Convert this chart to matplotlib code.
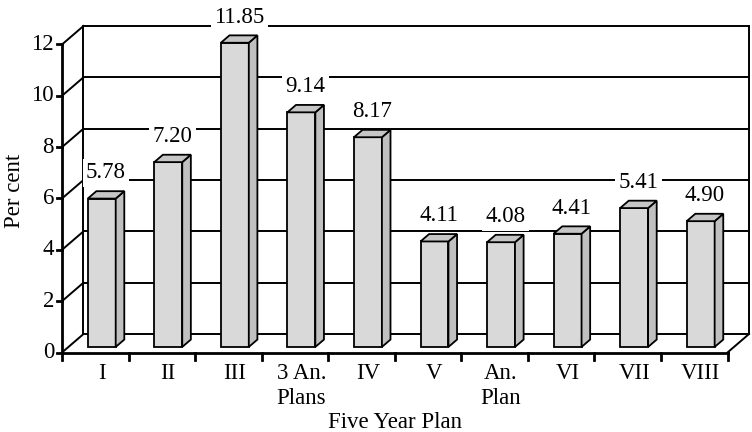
import numpy as np
import matplotlib.pyplot as plt
from matplotlib.patches import Polygon

plans = ["I", "II", "III", "3 An.\nPlans", "IV", "V", "An.\nPlan", "VI", "VII", "VIII"]
growth = [5.78, 7.20, 11.85, 9.14, 8.17, 4.11, 4.08, 4.41, 5.41, 4.90]
yticks = [0, 2, 4, 6, 8, 10, 12]

plt.rcParams['font.family'] = ['Liberation Serif', 'DejaVu Serif']
FS = 16.5

# depth of the pseudo-3D box, in data units
DX, DY = 0.323, 0.72
# bars sit between these depth fractions
D0, D1 = 0.3, 0.7
BW = 0.42

FRONT = "#d9d9d9"
SIDE = "#c0c0c0"
TOP = "#c6c6c6"

fig = plt.figure(figsize=(7.52, 4.32), dpi=100)
ax = fig.add_axes([62 / 752, 1 - 352.5 / 432, 687 / 752, 12.75 * 25.67 / 432])
ax.set_xlim(0, 10 + DX)
ax.set_ylim(0, 12 + DY + 0.03)
ax.axis("off")

n = len(plans)
lw_axis = 2.0
lw_grid = 1.4

# back wall grid lines and left wall diagonals
for v in yticks:
    ax.plot([DX, n + DX], [v + DY, v + DY], color="black", lw=lw_grid, clip_on=False, zorder=1)
    ax.plot([0, DX], [v, v], color="black", lw=0, clip_on=False)
    ax.plot([0, DX], [v, v + DY], color="black", lw=lw_grid, clip_on=False, zorder=1)
    ax.plot([-0.08, 0], [v, v], color="black", lw=lw_axis, clip_on=False, zorder=1)
    ax.text(-0.12, v, str(v), ha="right", va="center", fontsize=FS)

ax.plot([DX, DX], [DY, 12 + DY], color="black", lw=lw_grid, clip_on=False, zorder=1)
ax.plot([n + DX, n + DX], [DY, 12 + DY], color="black", lw=lw_grid, clip_on=False, zorder=1)
ax.plot([n, n + DX], [0, DY], color="black", lw=lw_grid, clip_on=False, zorder=1)

# front axes
ax.plot([0, 0], [0, 12], color="black", lw=lw_axis, clip_on=False, zorder=5)
ax.plot([0, n], [0, 0], color="black", lw=lw_axis, clip_on=False, zorder=5)
for i in range(n + 1):
    ax.plot([i, i], [0, -0.3], color="black", lw=lw_axis, clip_on=False, zorder=5)

# bars
for i, v in enumerate(growth):
    x0 = i + 0.5 - BW / 2 + D0 * DX
    x1 = x0 + BW
    y0 = D0 * DY
    ddx = (D1 - D0) * DX
    ddy = (D1 - D0) * DY
    front = Polygon([[x0, y0], [x1, y0], [x1, y0 + v], [x0, y0 + v]],
                    closed=True, fc=FRONT, ec="black", lw=1.3, zorder=3)
    side = Polygon([[x1, y0], [x1 + ddx, y0 + ddy], [x1 + ddx, y0 + ddy + v], [x1, y0 + v]],
                   closed=True, fc=SIDE, ec="black", lw=1.3, zorder=3)
    top = Polygon([[x0, y0 + v], [x1, y0 + v], [x1 + ddx, y0 + ddy + v], [x0 + ddx, y0 + ddy + v]],
                  closed=True, fc=TOP, ec="black", lw=1.3, zorder=3)
    for p in (front, side, top):
        ax.add_patch(p)
    ax.text(i + 0.5 + 0.5 * DX, v + D1 * DY + 0.3, f"{v:.2f}", ha="center", va="bottom",
            fontsize=FS, zorder=4,
            bbox=dict(boxstyle="square,pad=0.15", fc="white", ec="none"))
    ax.text(i + 0.5 + D0 * DX, -0.4, plans[i], ha="center", va="top",
            fontsize=FS, linespacing=1.25)

ax.text(n / 2, -2.71, "Five Year Plan", ha="center", va="center", fontsize=FS)
ax.text(-0.72, 6.3, "Per cent", ha="center", va="center", rotation=90, fontsize=FS)

fig.savefig("out.png", dpi=100)
